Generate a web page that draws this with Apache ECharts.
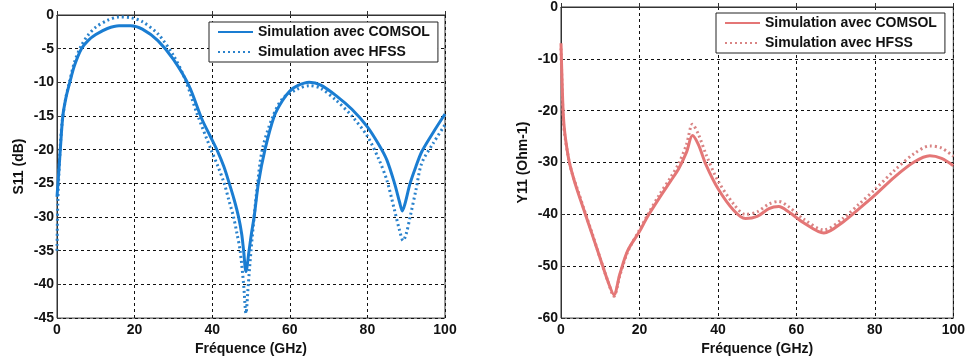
<!DOCTYPE html>
<html>
<head>
<meta charset="utf-8">
<script src="https://cdn.jsdelivr.net/npm/echarts@6/dist/echarts.min.js"></script>
<style>
  html, body { margin: 0; padding: 0; background: #fff; }
  #chart { width: 968px; height: 361px; }
</style>
</head>
<body>
<div id="chart"></div>
<script>
// S11 (dB) vs fréquence (GHz)
const freqS11Comsol = [0, 0.25, 0.85, 1.5, 2.3, 3.3, 4.5, 6.3, 8, 10, 13, 16, 19, 22, 26, 30, 34, 37.3, 39.5, 41.2, 43, 44.4, 45.7, 46.8, 47.6, 48.1, 48.7, 49.5, 50.1, 50.8, 51.9, 53.6, 56, 58, 60, 62, 65, 68, 72, 76, 80, 83, 85, 87, 88.3, 89, 89.7, 91, 92.5, 94, 97, 100]
const s11Comsol = [-27, -25, -20, -15, -12.3, -10, -7.5, -5, -3.8, -2.9, -2, -1.6, -1.6, -2.1, -3.8, -6.6, -10.5, -15.4, -18, -20, -22.5, -25, -27.5, -30, -32.5, -35, -38.1, -35, -32.5, -30, -25, -20, -15, -12.8, -11.3, -10.5, -10, -10.4, -12, -14, -16.6, -19.3, -21.5, -25, -27.8, -29.1, -28, -25, -22.5, -20.3, -17.4, -14.7]
const freqS11Hfss = [0, 0.2, 0.7, 1.3, 2.2, 3.2, 4.5, 6.3, 8, 10, 13, 16, 19, 22, 26, 30, 33, 36, 39.7, 41.5, 43.1, 44.3, 45.5, 46.4, 47.2, 48.1, 48.7, 49.3, 50, 50.8, 51.7, 52.9, 55.4, 58, 62, 65, 68, 72, 76, 80, 83, 85, 87, 88.3, 89.2, 90, 91, 92.5, 94, 97, 100]
const s11Hfss = [-35, -28, -21, -16, -12.5, -10, -7, -4.5, -3, -1.8, -0.8, -0.3, -0.4, -1, -2.8, -6, -9.5, -14.5, -20, -22.5, -25, -27.5, -30, -32.5, -35, -40, -44.3, -40, -35, -30, -25, -20, -15.4, -12.5, -11, -10.5, -10.9, -12.7, -15, -18, -21.5, -24.5, -29, -32, -33.5, -32.5, -30, -26, -22, -19, -16.3]

// Y11 (Ohm-1) vs fréquence (GHz)
const freqY11 = [0, 0.3, 0.6, 1, 2, 3, 4, 6, 8, 10, 12, 13.5, 15, 17, 20, 22, 25, 28, 30, 32, 33.5, 35, 37, 40, 44, 47, 50, 53, 55.5, 58, 62, 67, 72, 76, 80, 85, 90, 94, 97, 100]
const y11Comsol = [-7, -15, -21, -24.5, -29.5, -32.5, -35, -39.5, -44, -48.5, -53, -55.5, -51.5, -47, -43.3, -40.5, -36.9, -33.5, -31.2, -28, -24.8, -26.5, -30.5, -35, -39.2, -40.8, -40.4, -38.9, -38.5, -39.5, -41.7, -43.6, -41.4, -38.9, -36.3, -32.8, -29.9, -28.7, -29.2, -30.6]
const y11Hfss = [-8, -16, -22, -25, -29.5, -32.5, -34.7, -39.3, -43.8, -48.5, -53, -55.8, -51.8, -47.2, -43, -40.2, -36.3, -32.8, -30.2, -26.5, -22.6, -24.5, -28.5, -33.5, -38, -40, -39.5, -38, -37.5, -38.5, -41, -43, -40.7, -38, -35.2, -31.5, -28.3, -26.8, -27.2, -28.8]

const seriesNames = ['Simulation avec COMSOL', 'Simulation avec HFSS']

const pairs = (xs, ys) => xs.map((x, i) => [x, ys[i]])

const font = { fontFamily: 'Liberation Sans, Arial, sans-serif', fontWeight: 'bold', fontSize: 14, color: '#111' }

const xAxisBase = (gridIndex) => ({
  type: 'value',
  gridIndex,
  min: 0,
  max: 100,
  interval: 20,
  name: 'Fréquence (GHz)',
  nameLocation: 'middle',
  nameGap: 23,
  nameTextStyle: { ...font },
  axisLine: { lineStyle: { color: '#333', width: 1 } },
  axisTick: { inside: true, length: 4, lineStyle: { color: '#333' } },
  axisLabel: { ...font, margin: 5 },
  splitLine: { show: true, lineStyle: { color: '#111', type: [3, 3], width: 1 } }
})

const yAxisBase = (gridIndex, min, interval, name) => ({
  type: 'value',
  gridIndex,
  min,
  max: 0,
  interval,
  name,
  nameLocation: 'middle',
  nameGap: 31,
  nameTextStyle: { ...font },
  axisLine: { show: true, lineStyle: { color: '#333', width: 1 } },
  axisTick: { show: true, inside: true, length: 4, lineStyle: { color: '#333' } },
  axisLabel: { ...font, margin: 3 },
  splitLine: { show: true, lineStyle: { color: '#111', type: [3, 3], width: 1 } }
})

// legend names of the left chart carry a trailing space so each legend
// only picks up its own pair of series
const legendBase = (left, top, names) => ({
  left,
  top,
  orient: 'vertical',
  backgroundColor: '#fff',
  borderColor: '#222',
  borderWidth: 1,
  borderRadius: 0,
  padding: [3, 8, 3, 8],
  itemWidth: 35,
  itemHeight: 14,
  itemGap: 6,
  itemStyle: { opacity: 0 },
  textStyle: { ...font },
  data: names,
  formatter: n => n.trim(),
  selectedMode: false
})

const lineSeries = (name, data, color, dotted, axisIndex) => ({
  name,
  type: 'line',
  xAxisIndex: axisIndex,
  yAxisIndex: axisIndex,
  data,
  smooth: 0.3,
  showSymbol: false,
  symbol: 'none',
  lineStyle: { color, width: 3, type: dotted ? [2, 3] : 'solid' },
  itemStyle: { color },
  z: dotted ? 3 : 4
})

const chart = echarts.init(document.getElementById('chart'))

chart.setOption({
  backgroundColor: '#fff',
  animation: false,
  grid: [
    { left: 57, right: 523, top: 15, bottom: 39, show: true, borderColor: '#333', borderWidth: 1, backgroundColor: 'transparent' },
    { left: 561, right: 14, top: 7, bottom: 40, show: true, borderColor: '#333', borderWidth: 1, backgroundColor: 'transparent' }
  ],
  legend: [
    legendBase(209, 22, seriesNames.map(n => n + ' ')),
    legendBase(716, 13, seriesNames.slice())
  ],
  xAxis: [xAxisBase(0), xAxisBase(1)],
  yAxis: [yAxisBase(0, -45, 5, 'S11 (dB)'), yAxisBase(1, -60, 10, 'Y11 (Ohm-1)')],
  series: [
    lineSeries(seriesNames[0] + ' ', pairs(freqS11Comsol, s11Comsol), '#1a7dd2', false, 0),
    lineSeries(seriesNames[1] + ' ', pairs(freqS11Hfss, s11Hfss), '#2a82cc', true, 0),
    lineSeries(seriesNames[0], pairs(freqY11, y11Comsol), '#e47676', false, 1),
    lineSeries(seriesNames[1], pairs(freqY11, y11Hfss), '#d98484', true, 1)
  ]
})
</script>
</body>
</html>
